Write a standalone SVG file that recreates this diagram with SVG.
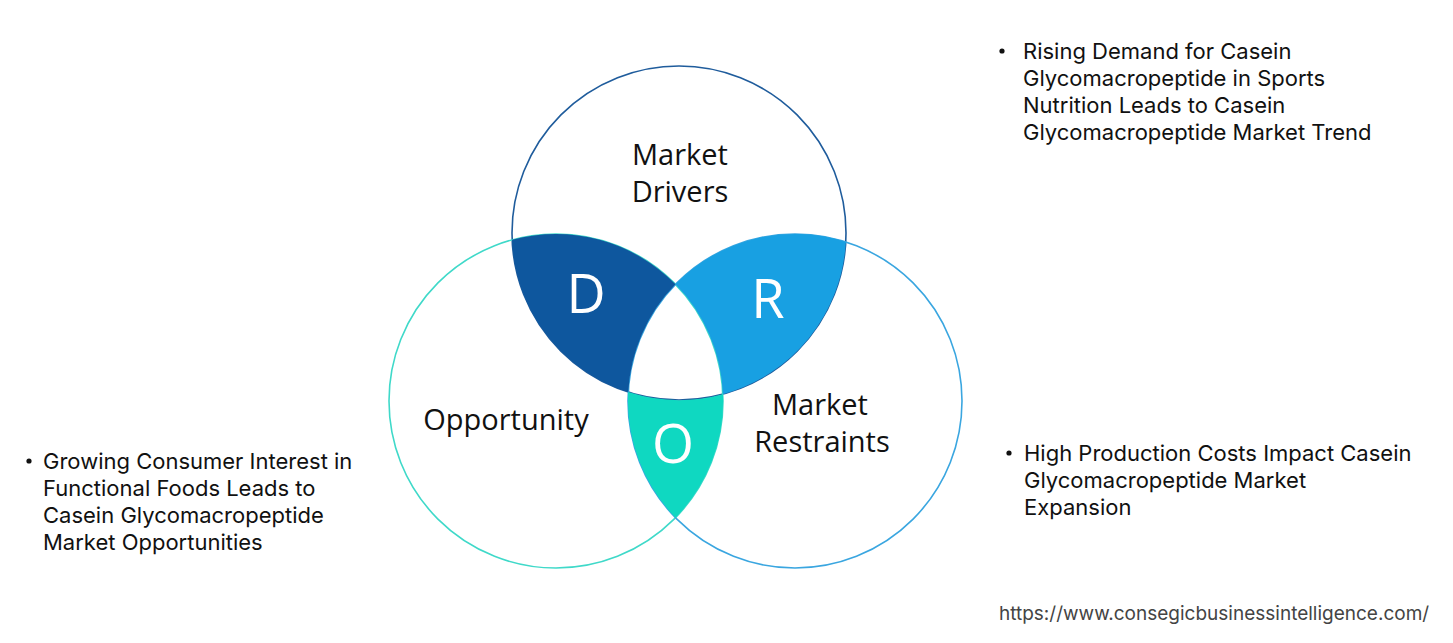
<svg xmlns="http://www.w3.org/2000/svg" width="1453" height="643" viewBox="0 0 1453 643">
<style>
.circ{fill:none;stroke-width:1.6}
.lbl{font-family:"Open Sans","Liberation Sans",sans-serif;font-size:29px;fill:#111;text-anchor:middle}
.big{font-family:"Open Sans","Liberation Sans",sans-serif;font-size:54px;fill:#fff;text-anchor:middle}
.txt{font-family:Inter,"Liberation Sans",sans-serif;font-size:22px;fill:#111}
.url{font-family:Inter,"Liberation Sans",sans-serif;font-size:19px;fill:#444}
</style>
<rect width="1453" height="643" fill="#fff"/>
<g id="connectors"></g>
<g id="circles">
<circle class="circ" cx="679" cy="233" r="167" stroke="#1f5c9c"/>
<circle class="circ" cx="556" cy="401" r="167" stroke="#3fd9c9"/>
<circle class="circ" cx="795" cy="401" r="167" stroke="#3aa6e0"/>
</g>
<g id="node-D">
<path d="M512.1,239.8 A167,167 0 0 1 675.5,284.3 A167,167 0 0 0 628.2,392.1 A167,167 0 0 1 512.1,239.8 Z" fill="#0e579e"/>
<text class="big" x="586" y="313">D</text>
</g>
<g id="node-R">
<path d="M675.5,284.3 A167,167 0 0 1 845.8,241.9 A167,167 0 0 1 722.9,394.2 A167,167 0 0 0 675.5,284.3 Z" fill="#18a0e2"/>
<text class="big" x="768" y="318">R</text>
</g>
<g id="node-O">
<path d="M628.2,392.1 A167,167 0 0 0 722.9,394.2 A167,167 0 0 1 675.5,517.7 A167,167 0 0 1 628.2,392.1 Z" fill="#0fd8c1"/>
<text class="big" x="673" y="463">O</text>
</g>
<g id="node-drivers">
<text class="lbl" x="680" y="165">Market</text>
<text class="lbl" x="680" y="202">Drivers</text>
</g>
<g id="node-opportunity">
<text class="lbl" x="506" y="430">Opportunity</text>
</g>
<g id="node-restraints">
<text class="lbl" x="820" y="415">Market</text>
<text class="lbl" x="822" y="452">Restraints</text>
</g>
<g id="note-drivers">
<circle cx="1002" cy="51" r="2.6" fill="#111"/>
<text class="txt" x="1023" y="59">Rising Demand for Casein</text>
<text class="txt" x="1023" y="86">Glycomacropeptide in Sports</text>
<text class="txt" x="1023" y="113">Nutrition Leads to Casein</text>
<text class="txt" x="1023" y="140">Glycomacropeptide Market Trend</text>
</g>
<g id="note-opportunity">
<circle cx="29" cy="461" r="2.6" fill="#111"/>
<text class="txt" x="43" y="469">Growing Consumer Interest in</text>
<text class="txt" x="43" y="496">Functional Foods Leads to</text>
<text class="txt" x="43" y="523">Casein Glycomacropeptide</text>
<text class="txt" x="43" y="550">Market Opportunities</text>
</g>
<g id="note-restraints">
<circle cx="1009" cy="453" r="2.6" fill="#111"/>
<text class="txt" x="1024" y="461">High Production Costs Impact Casein</text>
<text class="txt" x="1024" y="488">Glycomacropeptide Market</text>
<text class="txt" x="1024" y="515">Expansion</text>
</g>
<text class="url" x="999" y="620">https://www.consegicbusinessintelligence.com/</text>
</svg>
